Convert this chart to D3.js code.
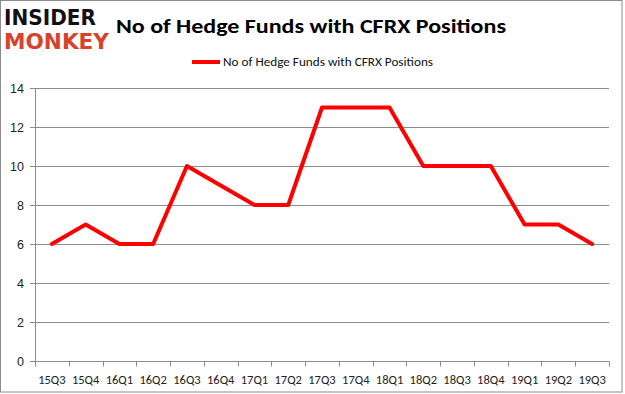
<!DOCTYPE html>
<html>
<head>
<meta charset="utf-8">
<script src="https://cdn.jsdelivr.net/npm/d3@7"></script>
<style>
  body { margin: 0; background: #fff; }
  svg { display: block; font-family: Calibri, Carlito, "Open Sans", "Liberation Sans", sans-serif; }
</style>
</head>
<body>
<div id="chart"></div>
<script>
// quarters and hedge fund counts
var quarters = ["15Q3", "15Q4", "16Q1", "16Q2", "16Q3", "16Q4", "17Q1", "17Q2", "17Q3",
                "17Q4", "18Q1", "18Q2", "18Q3", "18Q4", "19Q1", "19Q2", "19Q3"];
var funds = [6, 7, 6, 6, 10, 9, 8, 8, 13, 13, 13, 10, 10, 10, 7, 7, 6];
var yTicks = [0, 2, 4, 6, 8, 10, 12, 14];
var seriesName = "No of Hedge Funds with CFRX Positions";

var W = 625, H = 394;
var margin = {top: 88, right: 16, bottom: 33, left: 35},
    width = W - margin.left - margin.right,
    height = H - margin.top - margin.bottom;

var svg = d3.select("#chart")
  .append("svg")
    .attr("width", W)
    .attr("height", H);

// outer frame
svg.append("rect")
  .attr("x", 0.5).attr("y", 0.5)
  .attr("width", 621.5).attr("height", 391.5)
  .attr("fill", "none")
  .attr("stroke", "#8c8c8c");

// logo
svg.append("text")
  .attr("x", 4).attr("y", 25)
  .attr("textLength", 92).attr("lengthAdjust", "spacingAndGlyphs")
  .style("font-family", "'DejaVu Sans', sans-serif")
  .style("font-weight", "bold").style("font-size", "22px")
  .attr("fill", "#111")
  .text("INSIDER");
svg.append("text")
  .attr("x", 4).attr("y", 49)
  .attr("textLength", 105).attr("lengthAdjust", "spacingAndGlyphs")
  .style("font-family", "'DejaVu Sans', sans-serif")
  .style("font-weight", "bold").style("font-size", "22px")
  .attr("fill", "#d9412b")
  .text("MONKEY");

// title
svg.append("text")
  .attr("x", 311).attr("y", 33)
  .attr("text-anchor", "middle")
  .attr("textLength", 390).attr("lengthAdjust", "spacingAndGlyphs")
  .style("font-weight", "bold").style("font-size", "21px")
  .attr("fill", "#000")
  .text(seriesName);

// legend
svg.append("line")
  .attr("x1", 192).attr("x2", 220)
  .attr("y1", 62).attr("y2", 62)
  .attr("stroke", "#ff0000").attr("stroke-width", 4);
svg.append("text")
  .attr("x", 223).attr("y", 66)
  .attr("textLength", 210).attr("lengthAdjust", "spacingAndGlyphs")
  .style("font-size", "12px")
  .attr("fill", "#111")
  .text(seriesName);

var g = svg.append("g")
  .attr("transform", "translate(" + margin.left + "," + margin.top + ")");

var x = d3.scaleBand()
  .domain(quarters)
  .range([0, width]);

var y = d3.scaleLinear()
  .domain([0, 14])
  .range([height, 0]);

// gridlines
g.append("g")
  .selectAll("line")
  .data(yTicks)
  .enter()
  .append("line")
    .attr("x1", -5).attr("x2", width)
    .attr("y1", function (d) { return Math.round(y(d)) + 0.5; })
    .attr("y2", function (d) { return Math.round(y(d)) + 0.5; })
    .attr("stroke", "#8c8c8c");

// y axis
var yAxis = g.append("g")
  .call(d3.axisLeft(y).tickValues(yTicks).tickSize(0).tickPadding(11));
yAxis.select(".domain").attr("stroke", "#8c8c8c");
yAxis.selectAll("text").style("font-size", "12.5px").attr("fill", "#222");

// x axis with ticks at category boundaries
var xAxis = g.append("g")
  .attr("transform", "translate(0," + (Math.round(height) + 0.5) + ")");
xAxis.append("line")
  .attr("x1", 0).attr("x2", width)
  .attr("stroke", "#8c8c8c");
xAxis.selectAll(".bound")
  .data(quarters.concat(["end"]))
  .enter()
  .append("line")
    .attr("class", "bound")
    .attr("x1", function (d, i) { return Math.round(i * x.step()) + 0.5; })
    .attr("x2", function (d, i) { return Math.round(i * x.step()) + 0.5; })
    .attr("y1", 0).attr("y2", 5)
    .attr("stroke", "#8c8c8c");
xAxis.selectAll(".lbl")
  .data(quarters)
  .enter()
  .append("text")
    .attr("class", "lbl")
    .attr("x", function (d) { return x(d) + x.bandwidth() / 2; })
    .attr("y", 22)
    .attr("text-anchor", "middle")
    .style("font-size", "12.5px")
    .attr("fill", "#222")
    .text(function (d) { return d; });

// the line
var line = d3.line()
  .x(function (d, i) { return x(quarters[i]) + x.bandwidth() / 2; })
  .y(function (d) { return y(d); });

g.append("path")
  .datum(funds)
  .attr("d", line)
  .attr("fill", "none")
  .attr("stroke", "#ff0000")
  .attr("stroke-width", 4)
  .attr("stroke-linejoin", "round")
  .attr("stroke-linecap", "round");
</script>
</body>
</html>
